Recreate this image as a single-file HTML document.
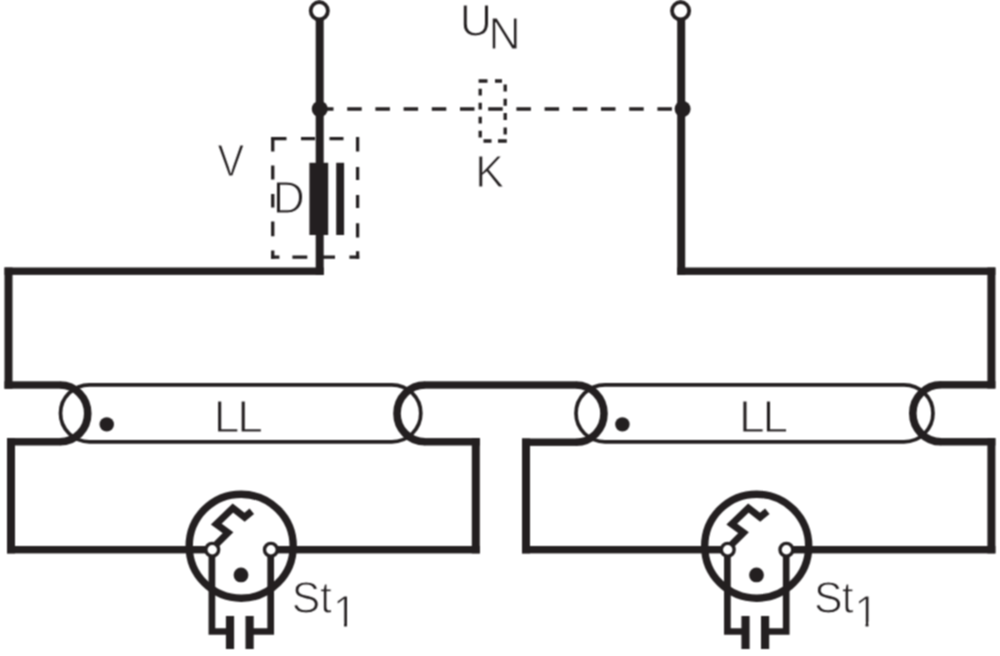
<!DOCTYPE html>
<html>
<head>
<meta charset="utf-8">
<title>Schaltbild</title>
<style>
html,body{margin:0;padding:0;background:#fff;}
body{width:1000px;height:656px;overflow:hidden;}
svg{display:block;}
text{font-family:"Liberation Sans",sans-serif;font-size:46px;fill:#231f20;stroke:#fff;stroke-width:1.1px;}
</style>
</head>
<body>
<svg width="1000" height="656" viewBox="0 0 1000 656">
<defs>
  <filter id="soft" x="0" y="0" width="1000" height="656" filterUnits="userSpaceOnUse" color-interpolation-filters="sRGB">
    <feConvolveMatrix order="3" kernelMatrix="1 2 1 2 4 2 1 2 1" divisor="16" edgeMode="duplicate" preserveAlpha="true"/>
  </filter>
</defs>
<g filter="url(#soft)">
<rect x="-10" y="-10" width="1020" height="676" fill="#fff"/>
<!-- wires -->
<g fill="#231f20">
  <rect x="315.70" y="18.00" width="8.00" height="256.90"/>
  <rect x="4.50" y="267.50" width="319.20" height="7.40"/>
  <rect x="4.50" y="267.50" width="8.00" height="121.20"/>
  <rect x="4.50" y="381.30" width="56.00" height="7.40"/>
  <rect x="7.00" y="438.10" width="53.50" height="7.40"/>
  <rect x="7.00" y="438.10" width="8.00" height="115.30"/>
  <rect x="7.00" y="546.00" width="199.00" height="7.40"/>
  <rect x="277.00" y="546.00" width="202.80" height="7.40"/>
  <rect x="471.80" y="438.10" width="8.00" height="115.30"/>
  <rect x="424.50" y="438.10" width="55.30" height="7.40"/>
  <rect x="424.50" y="381.30" width="152.00" height="7.40"/>
  <rect x="522.00" y="438.50" width="54.50" height="7.40"/>
  <rect x="522.00" y="438.50" width="8.00" height="114.90"/>
  <rect x="522.00" y="546.00" width="199.50" height="7.40"/>
  <rect x="792.50" y="546.00" width="202.90" height="7.40"/>
  <rect x="987.40" y="438.10" width="8.00" height="115.30"/>
  <rect x="940.50" y="438.10" width="54.90" height="7.40"/>
  <rect x="940.50" y="381.10" width="54.90" height="7.40"/>
  <rect x="987.40" y="267.50" width="8.00" height="121.00"/>
  <rect x="677.20" y="267.50" width="318.20" height="7.40"/>
  <rect x="677.20" y="18.00" width="8.00" height="256.90"/>
</g>
<!-- wire loops through the lamp ends -->
<g fill="none" stroke="#231f20" stroke-width="7.6">
  <path d="M60,385.0 A27.75 28.4 0 0 1 60,441.8"/>
  <path d="M425,441.8 A28 28.4 0 0 1 425,385.0"/>
  <path d="M576,385.0 A28 28.6 0 0 1 576,442.2"/>
  <path d="M941,441.8 A28.2 28.5 0 0 1 941,384.8"/>
</g>
<!-- lamps -->
<g fill="none" stroke="#231f20" stroke-width="3.7">
  <rect x="60.5" y="384.8" width="360.3" height="57" rx="29" ry="28.5"/>
  <rect x="576" y="384.8" width="357" height="57" rx="29" ry="28.5"/>
</g>
<g fill="#231f20">
  <circle cx="106.75" cy="424.4" r="7.2"/>
  <circle cx="622.4" cy="424.4" r="7.2"/>
  <circle cx="319.75" cy="109" r="8"/>
  <circle cx="682.6" cy="109" r="8"/>
  <rect x="309.4" y="162.800" width="18.8" height="72.200"/>
  <rect x="336.2" y="162.800" width="7.9" height="72.200"/>
</g>
<!-- dashed parts -->
<g fill="none" stroke="#231f20" stroke-width="3.3">
  <path d="M319,109 H683" stroke-dasharray="14.5 13.7"/>
  <path d="M271.1,138.700 H358" stroke-dasharray="15.4 14.5 14 14.5 14 40"/>
  <path d="M357.6,137 V258.8" stroke-dasharray="14.5 15.5 13 15 13 15.3 14.3 13.6 10"/>
  <path d="M272.75,137 V258.8" stroke-dasharray="14.5 14 14 14.5 13.5 13.9 14.9 14.2 10"/>
  <path d="M359.2,257.200 H271.1" stroke-dasharray="9.8 14.4 13 14.7 14.9 13 10"/>
  <g stroke-width="3.3">
    <path d="M478.6,81 H505.2" stroke-dasharray="8.9 7.5 7 100"/>
    <path d="M505.2,84.500 V140" stroke-dasharray="7 7.3"/>
    <path d="M483.500,141 H506.8" stroke-dasharray="8 6.5 9 100"/>
    <path d="M480.2,88.800 V140" stroke-dasharray="6.8 7.2"/>
  </g>
</g>
<g fill="none" stroke="#231f20" transform="translate(0,0)">
  <circle cx="241.2" cy="546.2" r="52" stroke-width="7.4"/>
  <path d="M216.3,544.4 L228,532.7 L216.3,524.1 L232.9,508.1 L244.6,517.2 L251.8,511.2" stroke-width="7"/>
  <path d="M211.9,555 V631.5 H230" stroke-width="6.7"/>
  <path d="M270.7,555 V631.5 H249.6" stroke-width="6.7"/>
  <path d="M230,616 V649 M249.6,616 V649" stroke-width="8.2"/>
  <circle cx="212.25" cy="549.75" r="6.4" stroke-width="3.4" fill="#fff"/>
  <circle cx="270.9" cy="549.75" r="6.4" stroke-width="3.4" fill="#fff"/>
  <circle cx="241" cy="574.9" r="7.4" fill="#231f20" stroke="none"/>
</g>
<g fill="none" stroke="#231f20" transform="translate(515.5,0)">
  <circle cx="241.2" cy="546.2" r="52" stroke-width="7.4"/>
  <path d="M216.3,544.4 L228,532.7 L216.3,524.1 L232.9,508.1 L244.6,517.2 L251.8,511.2" stroke-width="7"/>
  <path d="M211.9,555 V631.5 H230" stroke-width="6.7"/>
  <path d="M270.7,555 V631.5 H249.6" stroke-width="6.7"/>
  <path d="M230,616 V649 M249.6,616 V649" stroke-width="8.2"/>
  <circle cx="212.25" cy="549.75" r="6.4" stroke-width="3.4" fill="#fff"/>
  <circle cx="270.9" cy="549.75" r="6.4" stroke-width="3.4" fill="#fff"/>
  <circle cx="241" cy="574.9" r="7.4" fill="#231f20" stroke="none"/>
</g>
<!-- terminals -->
<g fill="#fff" stroke="#231f20" stroke-width="3.8">
  <circle cx="319.3" cy="10.8" r="8.6"/>
  <circle cx="680.6" cy="10.8" r="8.6"/>
</g>
<!-- labels -->
<text transform="translate(459.74,35.5) scale(0.971,0.961)" x="0" y="0">U<tspan x="29.6" y="13.53">N</tspan></text>
<text transform="translate(475.23,186.5) scale(0.942,0.984)" x="0" y="0">K</text>
<text transform="translate(217.5,175.5) scale(0.867,0.969)" x="0" y="0">V</text>
<text transform="translate(272.65,213.0) scale(0.963,0.984)" x="0" y="0">D</text>
<text transform="translate(213.83,432.4) scale(1.005,0.972)" x="0" y="0" style="letter-spacing:-2.25px">LL</text>
<text transform="translate(738.98,432.4) scale(1.005,0.972)" x="0" y="0" style="letter-spacing:-2.20px">LL</text>
<text transform="translate(291.87,613.0) scale(0.928,0.953)" x="0" y="0" style="letter-spacing:-0.40px">St<tspan x="44.29" y="14.7">1</tspan></text>
<g transform="translate(291.87,613.0) scale(0.928,0.953)"><rect x="45.29" y="9.10" width="10.9" height="8" fill="#fff"/><rect x="59.39" y="9.10" width="11" height="8" fill="#fff"/></g>
<text transform="translate(814.09,613.0) scale(0.93,0.953)" x="0" y="0" style="letter-spacing:-1.03px">St<tspan x="43.4" y="14.7">1</tspan></text>
<g transform="translate(814.09,613.0) scale(0.93,0.953)"><rect x="44.40" y="9.10" width="10.9" height="8" fill="#fff"/><rect x="58.50" y="9.10" width="11" height="8" fill="#fff"/></g>
</g>
</svg>
</body>
</html>
